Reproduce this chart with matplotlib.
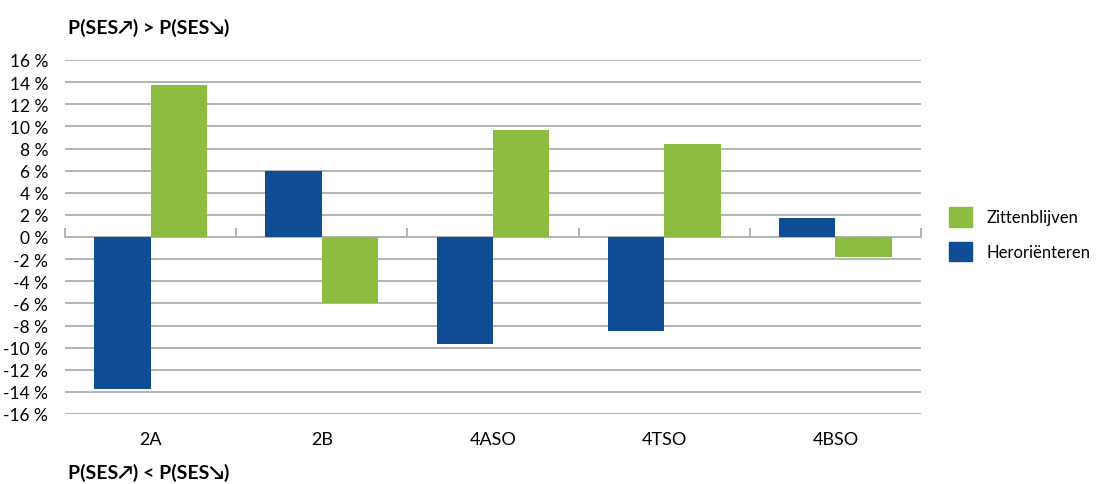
import matplotlib
matplotlib.use("Agg")
import matplotlib.pyplot as plt
from matplotlib.patches import Patch
import numpy as np

categories = ["2A", "2B", "4ASO", "4TSO", "4BSO"]
zittenblijven = [13.7, -6.0, 9.7, 8.4, -1.8]
heroriënteren = [-13.7, 6.0, -9.7, -8.5, 1.7]
y_ticks = list(range(-16, 17, 2))
y_tick_labels = [f"{v} %" for v in y_ticks]

GREEN = "#8CBD40"
BLUE = "#0F4C96"
GRID = "#B3B3B3"

plt.rcParams["font.family"] = ["Lato", "DejaVu Sans"]

fig = plt.figure(figsize=(11.01, 4.85), dpi=100)
ax = fig.add_axes([65 / 1101, 1 - 415 / 485, (921 - 65) / 1101, (415 - 61) / 485])

x = np.arange(len(categories))
w = 0.33
ax.bar(x - w / 2, heroriënteren, width=w, color=BLUE, zorder=3)
ax.bar(x + w / 2, zittenblijven, width=w, color=GREEN, zorder=3)

ax.set_xlim(-0.5, len(categories) - 0.5)
ax.set_ylim(-16, 16)
ax.set_yticks(y_ticks)
ax.set_yticklabels(y_tick_labels, fontsize=12.5)
ax.tick_params(axis="y", length=0, pad=12)
ax.set_xticks(x)
ax.set_xticklabels(categories, fontsize=13)
ax.tick_params(axis="x", length=0, pad=12)

for v in y_ticks:
    ax.axhline(v, color=GRID, lw=1.4, zorder=1)

# category separators on the zero line
for b in np.arange(-0.5, len(categories), 1.0):
    ax.plot([b, b], [0, 0.7], color=GRID, lw=1.4, zorder=2, clip_on=False)

for s in ax.spines.values():
    s.set_visible(False)

fig.text(68 / 1101, 1 - 28 / 485, "P(SES↗) > P(SES↘)", fontsize=14, fontweight="bold",
         va="center", ha="left")
fig.text(68 / 1101, 1 - 473 / 485, "P(SES↗) < P(SES↘)", fontsize=14, fontweight="bold",
         va="center", ha="left")

handles = [Patch(color=GREEN, label="Zittenblijven"), Patch(color=BLUE, label="Heroriënteren")]
fig.legend(handles=handles, loc="center left", bbox_to_anchor=(942 / 1101, 1 - 235 / 485),
           frameon=False, fontsize=12, handlelength=1.4, handleheight=1.4,
           labelspacing=0.9, handletextpad=0.9, borderaxespad=0)

fig.savefig("out.png", dpi=100)
